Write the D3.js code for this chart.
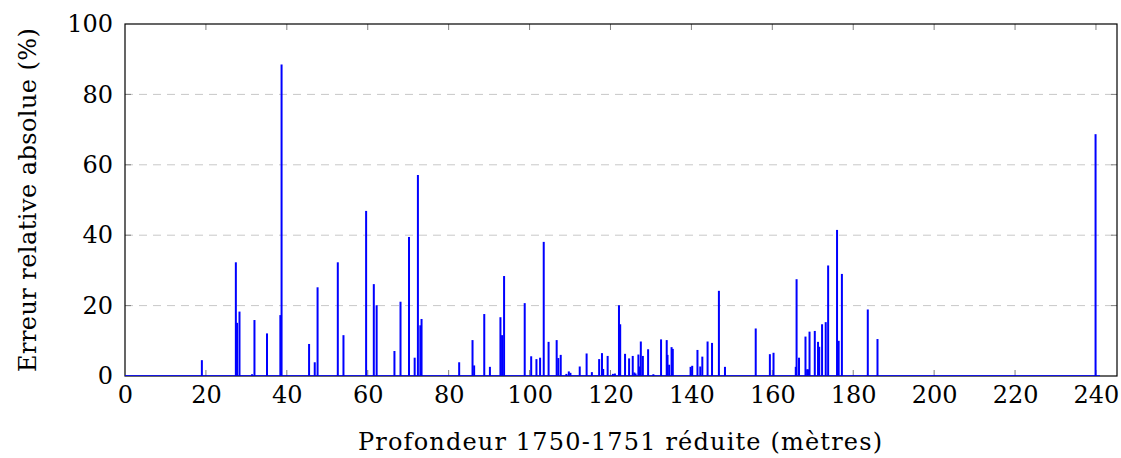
<!DOCTYPE html>
<html>
<head>
<meta charset="utf-8">
<script src="https://cdn.jsdelivr.net/npm/d3@7"></script>
<style>
  body { margin: 0; background: #fff; }
  text { font-family: "DejaVu Serif", "Liberation Serif", serif; fill: #000; }
</style>
</head>
<body>
<div id="chart"></div>
<script>
// Chart set up
var svgWidth = 1121;
var svgHeight = 458;

var margin = { top: 24, right: 4, bottom: 82, left: 125 };
var width = svgWidth - margin.left - margin.right;
var height = svgHeight - margin.top - margin.bottom;

// depth (m) and absolute relative error (%)
var depths = [19, 27.4, 27.7, 28.3, 31.4, 32, 35.1, 38.4, 38.7, 45.5, 46.9, 47.6, 52.6, 54,
  59.6, 61.5, 62.2, 66.6, 68.1, 70.2, 71.6, 72.4, 73, 73.3, 82.6, 85.9, 86.3, 88.8, 90.2,
  92.8, 93.2, 93.7, 98.8, 100.4, 101.7, 102.6, 103.5, 104.7, 106.7, 107.1, 107.7, 109.1,
  109.7, 110.1, 112.4, 114.1, 115.4, 117.2, 117.9, 118.2, 119.3, 120.6, 121.1, 122.1,
  122.4, 123.6, 124.6, 125.5, 125.9, 126.2, 126.9, 127.1, 127.5, 128, 129.3, 130.6,
  132.5, 133.9, 134.1, 134.5, 135.1, 135.4, 139.8, 140.2, 141.5, 142.2, 142.7, 144,
  145.1, 146.8, 148.3, 155.9, 159.4, 160.3, 165.8, 166, 166.6, 168.2, 168.6, 168.9,
  169.2, 170.5, 171.3, 171.6, 172.3, 173.2, 173.8, 176, 176.4, 177.2, 183.6, 186, 239.9];
var errors = [4.5, 32.3, 15.1, 18.3, 0.5, 15.9, 12.1, 17.3, 88.5, 9.1, 3.9, 25.2, 32.3, 11.6,
  46.9, 26.1, 20.1, 7.1, 21.1, 39.5, 5.2, 57.1, 14.4, 16.2, 3.9, 10.2, 3, 17.6, 2.6,
  16.7, 11.6, 28.4, 20.7, 5.6, 4.8, 5.2, 38.1, 9.7, 10.2, 5.1, 6, 0.6,
  1.3, 0.9, 2.7, 6.4, 1.1, 4.8, 6.5, 2, 5.7, 0.6, 0.7, 20.1,
  14.7, 6.3, 5, 5.7, 1, 0.7, 6.1, 2.7, 9.8, 5.7, 7.6, 0.5,
  10.4, 10.2, 6, 3.2, 8.2, 7.7, 2.6, 2.9, 7.4, 2.7, 5.5, 9.8,
  9.4, 24.2, 2.6, 13.5, 6.2, 6.6, 2.6, 27.5, 5.2, 11.2, 1.9, 1.9,
  12.6, 12.8, 9.7, 8.3, 14.7, 15.3, 31.4, 41.5, 10, 29, 18.9, 10.5, 68.7];

var xTicks = [0, 20, 40, 60, 80, 100, 120, 140, 160, 180, 200, 220, 240];
var yTicks = [0, 20, 40, 60, 80, 100];

var data = depths.map(function(d, i) { return { depth: d, err: errors[i] }; });

var svg = d3.select("#chart")
  .append("svg")
  .attr("width", svgWidth)
  .attr("height", svgHeight);

var chartGroup = svg.append("g")
  .attr("transform", `translate(${margin.left}, ${margin.top})`);

// Create Scales
var xLinearScale = d3.scaleLinear().domain([0, 245.2]).range([0, width]);
var yLinearScale = d3.scaleLinear().domain([0, 100]).range([height, 0]);

// grid lines
chartGroup.selectAll(".grid")
  .data(yTicks.filter(d => d > 0 && d < 100))
  .enter()
  .append("line")
  .attr("x1", 0).attr("x2", width)
  .attr("y1", d => yLinearScale(d)).attr("y2", d => yLinearScale(d))
  .attr("stroke", "#c8c8c8")
  .attr("stroke-width", 1)
  .attr("stroke-dasharray", "8,6");

// inner tick marks (bottom/top/left/right)
var tickLen = 6;
xTicks.filter(d => d > 0).forEach(function(d) {
  var x = xLinearScale(d);
  chartGroup.append("line").attr("x1", x).attr("x2", x).attr("y1", height).attr("y2", height - tickLen)
    .attr("stroke", "#808080").attr("stroke-width", 1);
  chartGroup.append("line").attr("x1", x).attr("x2", x).attr("y1", 0).attr("y2", tickLen)
    .attr("stroke", "#808080").attr("stroke-width", 1);
});
yTicks.filter(d => d > 0 && d < 100).forEach(function(d) {
  var y = yLinearScale(d);
  chartGroup.append("line").attr("x1", 0).attr("x2", tickLen).attr("y1", y).attr("y2", y)
    .attr("stroke", "#808080").attr("stroke-width", 1);
  chartGroup.append("line").attr("x1", width).attr("x2", width - tickLen).attr("y1", y).attr("y2", y)
    .attr("stroke", "#808080").attr("stroke-width", 1);
});

// bars
chartGroup.selectAll(".bar")
  .data(data)
  .enter()
  .append("rect")
  .attr("x", d => xLinearScale(d.depth) - 1)
  .attr("y", d => yLinearScale(d.err))
  .attr("width", 2)
  .attr("height", d => height - yLinearScale(d.err))
  .attr("fill", "#0000ff");

// frame
chartGroup.append("rect")
  .attr("x", 0).attr("y", 0)
  .attr("width", width).attr("height", height)
  .attr("fill", "none")
  .attr("stroke", "#000")
  .attr("stroke-width", 1.2);

// zero-valued bars along the baseline
chartGroup.append("line")
  .attr("x1", xLinearScale(0)).attr("x2", xLinearScale(241))
  .attr("y1", height - 0.5).attr("y2", height - 0.5)
  .attr("stroke", "#0000ff").attr("stroke-width", 0.8);

// Axis labels
var xAxis = d3.axisBottom(xLinearScale).tickValues(xTicks).tickSize(0).tickPadding(10);
chartGroup.append("g").attr("transform", `translate(0, ${height})`).call(xAxis)
  .call(g => g.select(".domain").remove())
  .selectAll("text").style("font-size", "24px").style("font-family", "DejaVu Serif");

var yAxis = d3.axisLeft(yLinearScale).tickValues(yTicks).tickSize(0).tickPadding(12);
chartGroup.append("g").call(yAxis)
  .call(g => g.select(".domain").remove())
  .selectAll("text").style("font-size", "24px").style("font-family", "DejaVu Serif");

svg.append("text")
  .attr("x", 620)
  .attr("y", 450)
  .attr("text-anchor", "middle")
  .style("font-size", "24px")
  .attr("textLength", 524)
  .text("Profondeur 1750-1751 réduite (mètres)");

svg.append("text")
  .attr("transform", `translate(36, ${margin.top + height / 2}) rotate(-90)`)
  .attr("text-anchor", "middle")
  .style("font-size", "24px")
  .attr("textLength", 344)
  .text("Erreur relative absolue (%)");
</script>
</body>
</html>
